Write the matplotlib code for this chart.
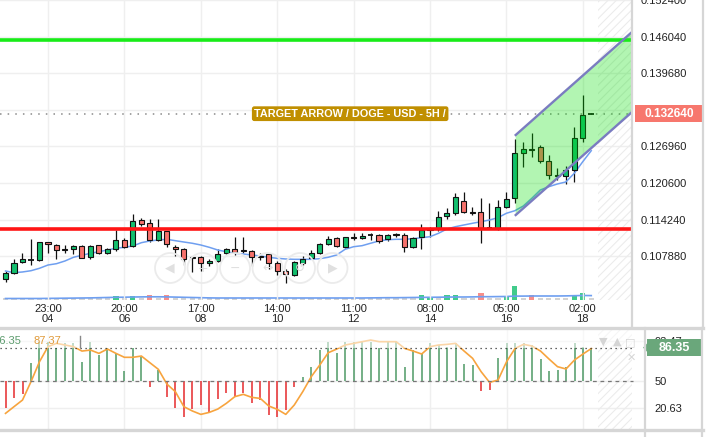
import numpy as np
import matplotlib
matplotlib.use('Agg')
import matplotlib.pyplot as plt
from matplotlib.patches import Rectangle, Circle, Polygon
from matplotlib.lines import Line2D
from matplotlib.transforms import Affine2D

plt.rcParams['font.family'] = ['Liberation Sans', 'DejaVu Sans']
plt.rcParams['hatch.linewidth'] = 0.8

W, H = 719, 437

# ---- data (DOGE/USD, 5h candles) ----
opens = [0.10386, 0.10490, 0.10686, 0.10715, 0.10716, 0.11029, 0.10982, 0.10907, 0.10907, 0.10970,
         0.10768, 0.10977, 0.10838, 0.10912, 0.11064, 0.10959, 0.11411, 0.11359, 0.11069, 0.11225,
         0.10942, 0.10907, 0.10761, 0.10779, 0.10674, 0.10709, 0.10843, 0.10907, 0.10890, 0.10883,
         0.10796, 0.10820, 0.10674, 0.10535, 0.10461, 0.10664, 0.10751, 0.10838, 0.10994, 0.11098,
         0.10952, 0.11116, 0.11098, 0.11162, 0.11156, 0.11081, 0.11156, 0.11156, 0.10942, 0.11116,
         0.11245, 0.11272, 0.11486, 0.11533, 0.11752, 0.11560, 0.11561, 0.11272, 0.11272, 0.11637,
         0.11794, 0.12576, 0.12645, 0.12680, 0.12442, 0.12190, 0.12186, 0.12286, 0.12836, 0.13264]
highs = [0.10535, 0.10733, 0.10848, 0.11094, 0.11034, 0.11034, 0.10994, 0.10982, 0.10977, 0.10977,
         0.10977, 0.10982, 0.10935, 0.11243, 0.11098, 0.11521, 0.11446, 0.11429, 0.11439, 0.11230,
         0.10987, 0.10925, 0.10791, 0.10791, 0.10733, 0.10907, 0.10930, 0.11116, 0.11116, 0.10895,
         0.10838, 0.10838, 0.10709, 0.10560, 0.10704, 0.10791, 0.10895, 0.11022, 0.11138, 0.11126,
         0.11126, 0.11185, 0.11185, 0.11185, 0.11173, 0.11173, 0.11185, 0.11185, 0.11126, 0.11347,
         0.11290, 0.11573, 0.11620, 0.11880, 0.11898, 0.11648, 0.11794, 0.11707, 0.11764, 0.11908,
         0.12824, 0.12767, 0.12923, 0.12720, 0.12546, 0.12315, 0.12355, 0.13038, 0.13589, 0.13280]
lows = [0.10344, 0.10473, 0.10674, 0.10634, 0.10709, 0.10848, 0.10733, 0.10838, 0.10831, 0.10751,
        0.10744, 0.10826, 0.10831, 0.10883, 0.10935, 0.10952, 0.11317, 0.11039, 0.11057, 0.10952,
        0.10791, 0.10634, 0.10518, 0.10535, 0.10617, 0.10692, 0.10826, 0.10803, 0.10838, 0.10617,
        0.10721, 0.10565, 0.10461, 0.10327, 0.10443, 0.10634, 0.10733, 0.10826, 0.10982, 0.10952,
        0.10925, 0.11069, 0.11086, 0.11069, 0.11022, 0.11057, 0.11116, 0.10855, 0.10925, 0.10907,
        0.11116, 0.11230, 0.11429, 0.11503, 0.11533, 0.11503, 0.11012, 0.11265, 0.11243, 0.11620,
        0.11707, 0.12332, 0.12517, 0.12412, 0.12124, 0.12112, 0.12042, 0.12082, 0.12777, 0.13250]
closes = [0.10490, 0.10674, 0.10733, 0.10718, 0.11029, 0.11000, 0.10895, 0.10890, 0.10959, 0.10761,
          0.10965, 0.10838, 0.10907, 0.11074, 0.10942, 0.11404, 0.11347, 0.11069, 0.11225, 0.11000,
          0.10907, 0.10733, 0.10779, 0.10674, 0.10704, 0.10826, 0.10907, 0.10866, 0.10873, 0.10768,
          0.10773, 0.10664, 0.10530, 0.10478, 0.10681, 0.10733, 0.10848, 0.10994, 0.11081, 0.10965,
          0.11116, 0.11098, 0.11138, 0.11160, 0.11057, 0.11156, 0.11168, 0.10942, 0.11109, 0.11243,
          0.11255, 0.11474, 0.11543, 0.11811, 0.11550, 0.11545, 0.11272, 0.11275, 0.11637, 0.11781,
          0.12576, 0.12645, 0.12628, 0.12442, 0.12199, 0.12175, 0.12286, 0.12836, 0.13241, 0.13264]
ma_line = [0.10530, 0.10501, 0.10513, 0.10535, 0.10577, 0.10634, 0.10657, 0.10704, 0.10768, 0.10803,
           0.10838, 0.10865, 0.10895, 0.10925, 0.10942, 0.10965, 0.11022, 0.11052, 0.11069, 0.11081,
           0.11057, 0.11034, 0.11012, 0.10982, 0.10942, 0.10895, 0.10865, 0.10838, 0.10826, 0.10808,
           0.10791, 0.10768, 0.10751, 0.10739, 0.10733, 0.10733, 0.10733, 0.10744, 0.10768, 0.10808,
           0.10907, 0.10952, 0.10970, 0.11012, 0.11052, 0.11074, 0.11081, 0.11081, 0.11091, 0.11109,
           0.11126, 0.11185, 0.11260, 0.11300, 0.11330, 0.11359, 0.11387, 0.11416, 0.11456, 0.11533,
           0.11578, 0.11660, 0.11794, 0.11938, 0.11995, 0.12042, 0.12077, 0.12228, 0.12430, 0.12621]
volume = [2, 2, 2, 2, 2, 2, 2, 2, 2, 2,
          2, 2, 2, 4, 2, 4, 2, 5, 2, 5,
          2, 2, 2, 2, 2, 2, 2, 2, 2, 2,
          2, 2, 2, 2, 2, 2, 2, 2, 2, 2,
          2, 2, 2, 2, 2, 2, 2, 2, 2, 5,
          3, 2, 4.5, 4.5, 2, 2, 7, 2, 2, 3,
          14, 2, 4.5, 2, 2, 2, 2, 5, 7, 2]
volume_ma = [1.5, 1.5, 1.5, 1.5, 1.5, 1.6, 1.7, 1.8, 1.9, 2.0,
             2.1, 2.3, 2.5, 2.7, 2.8, 3.0, 3.1, 3.2, 3.2, 3.1,
             2.9, 2.7, 2.5, 2.3, 2.1, 2.0, 2.0, 2.0, 2.0, 2.0,
             2.0, 2.0, 2.0, 2.0, 2.0, 2.0, 2.0, 2.0, 2.0, 2.0,
             2.0, 2.0, 2.0, 2.1, 2.2, 2.3, 2.3, 2.4, 2.5, 2.6,
             2.7, 2.8, 2.9, 3.0, 3.0, 3.1, 3.3, 3.3, 3.4, 3.5,
             3.9, 3.9, 4.0, 4.0, 4.0, 4.0, 4.1, 4.3, 4.5, 4.4]

tick_idx = [5, 14, 23, 32, 41, 50, 59, 68]
tick_txt = ['23:00\n04', '20:00\n06', '17:00\n08', '14:00\n10',
            '11:00\n12', '08:00\n14', '05:00\n16', '02:00\n18']
price_ticks = [0.10788, 0.11424, 0.12060, 0.12696, 0.13332, 0.13968, 0.14604, 0.15240]

resistance = 0.14545
support = 0.11260
last_price = 0.13264
chan_x = [60.1, 73.8]
chan_upper = [0.12894, 0.14684]
chan_lower = [0.11503, 0.13293]

osc = [20.3, 31.1, 35.9, 69.2, 93.0, 93.0, 85.5, 91.0, 91.0, 71.0,
       92.8, 78.3, 85.5, 80.1, 60.9, 85.5, 76.5, 43.8, 62.0, 33.0,
       20.3, 10.5, 19.2, 23.9, 16.6, 30.0, 37.3, 33.0, 36.6, 25.7,
       29.3, 13.0, 10.5, 18.4, 43.8, 54.0, 64.9, 83.7, 93.0, 80.1,
       93.0, 92.8, 92.8, 93.0, 85.5, 93.0, 93.0, 65.6, 83.7, 80.1,
       91.0, 89.2, 87.4, 91.0, 68.5, 67.4, 39.1, 40.2, 74.7, 91.0,
       91.0, 91.0, 89.2, 73.9, 60.9, 62.0, 65.6, 91.0, 87.4, 86.35]
signal = [14.8, 22.1, 29.3, 49.3, 71.0, 87.4, 91.0, 89.2, 87.4, 82.6,
          83.7, 80.1, 84.8, 80.1, 75.8, 75.8, 77.2, 69.9, 62.7, 46.7,
          38.4, 22.1, 17.4, 13.7, 15.9, 19.5, 25.7, 33.0, 35.5, 32.2,
          31.1, 22.8, 19.2, 13.7, 23.9, 38.4, 54.7, 67.4, 80.8, 84.8,
          89.2, 91.0, 92.8, 94.6, 92.8, 92.8, 92.8, 85.5, 82.6, 79.4,
          87.4, 89.2, 89.9, 91.0, 82.6, 74.7, 60.2, 48.5, 51.1, 71.0,
          85.5, 89.9, 88.1, 82.6, 73.9, 65.6, 63.1, 72.9, 79.4, 85.5]
signal_label = '87.37'
osc_ticks = [20.63, 50, 93.47]

UP = '#12bf6e'
DOWN = '#f7726c'
GRID = '#efefef'
HATCH = '#ececec'

fig = plt.figure(figsize=(W / 100, H / 100), dpi=100, facecolor='white')
px = Affine2D().scale(1 / W, -1 / H).translate(0, 1) + fig.transFigure

idx = np.arange(len(opens))
XL = (-0.65, 73.8)
YL = (0.10026, 0.1524)
FUTURE = 69.8

# volume underlay
ax_v = fig.add_axes([0, 1 - 300 / H, 632 / W, 300 / H])
ax_v.set_xlim(*XL)
ax_v.set_ylim(0, max(volume) * 21.4)
ax_v.axis('off')
vcol = [('#c9c9c9' if v <= 2.5 else (UP if c >= o else DOWN)) for v, o, c in zip(volume, opens, closes)]
ax_v.bar(idx, volume, width=0.62, color=vcol, alpha=0.8)
ax_v.plot(idx, volume_ma, color='#6f9ff0', lw=1.2)

# main price axes
ax = fig.add_axes([0, 1 - 300 / H, 632 / W, 300 / H])
ax.set_facecolor('none')
ax.set_xlim(*XL)
ax.set_ylim(*YL)
for s in ax.spines.values():
    s.set_visible(False)
ax.set_xticks(tick_idx)
ax.set_xticklabels(tick_txt, fontsize=8, color='#222222', linespacing=0.95)
ax.yaxis.tick_right()
ax.set_yticks(price_ticks)
ax.set_yticklabels(['%.6f' % t for t in price_ticks], fontsize=8, color='#222222')
ax.tick_params(axis='x', length=0, pad=3)
ax.tick_params(axis='y', length=0, pad=6)
ax.grid(True, color=GRID, lw=1)
ax.set_axisbelow(True)

# future hatch
ax.add_patch(Rectangle((FUTURE, YL[0]), XL[1] - FUTURE, YL[1] - YL[0], facecolor='none',
                       edgecolor=HATCH, hatch='////', lw=0, zorder=1))

# candles
for i, (o, h, l, c) in enumerate(zip(opens, highs, lows, closes)):
    ax.vlines(i, l, h, color='#111111', lw=0.9, zorder=3)
    if abs(c - o) < 0.00006:
        ax.hlines((o + c) / 2, i - 0.33, i + 0.33, color='#111111', lw=1.3, zorder=4)
    else:
        ax.add_patch(Rectangle((i - 0.3, min(o, c)), 0.6, abs(c - o),
                               facecolor=UP if c > o else DOWN, edgecolor='#111111',
                               lw=0.8, zorder=4))
ax.plot(idx, ma_line, color='#6f9ff0', lw=1.1, zorder=3.5)

# levels
ax.axhline(resistance, color='#18ec18', lw=2.6, zorder=6)
ax.axhline(support, color='#ff1515', lw=2.6, zorder=6)
ax.axhline(last_price, color='#8a8a8a', lw=1.1, ls=(0, (1, 4)), zorder=2)

# channel
ax.fill(chan_x + chan_x[::-1], chan_upper + chan_lower[::-1], color='#00e000', alpha=0.3, lw=0, zorder=5)
ax.plot(chan_x, chan_upper, color='#7a7cc0', lw=1.7, zorder=6)
ax.plot(chan_x, chan_lower, color='#7a7cc0', lw=1.7, zorder=6)

ax.text(40.6, last_price, 'TARGET ARROW / DOGE - USD - 5H /', ha='center', va='center',
        fontsize=7.8, fontweight='bold', color='white', zorder=8,
        bbox=dict(boxstyle='round,pad=0.22', fc='#c08f00', ec='none'))

# last price tag
ytr = ax.get_yaxis_transform()
ax.add_patch(Rectangle((1.0047, last_price - 0.00147), 0.1076, 0.00294, transform=ytr,
                       facecolor='#f7776d', edgecolor='none', clip_on=False, zorder=9))
ax.text(1.0585, last_price, '%.6f' % last_price, transform=ytr, ha='center', va='center',
        fontsize=8.6, fontweight='bold', color='white', clip_on=False, zorder=10)

# nav buttons
for k, g in enumerate(['◀', '+', '−', '↔', '↺', '▶']):
    cx = 170 + 32.5 * k
    fig.add_artist(Circle((cx, 268), 15, transform=px, facecolor='none', edgecolor='#ebebeb', lw=1.3))
    fig.text(cx / W, 1 - 268 / H, g, ha='center', va='center', fontsize=9, color='#e0e0e0',
             family=['DejaVu Sans'])

# oscillator pane
OXL = (-0.65, 75.3)
ax2 = fig.add_axes([0, 7 / H, 645 / W, 102 / H])
ax2.set_xlim(*OXL)
ax2.set_ylim(-3.3, 107.7)
for s in ax2.spines.values():
    s.set_visible(False)
ax2.set_xticks(tick_idx)
ax2.set_xticklabels([])
ax2.yaxis.tick_right()
ax2.set_yticks(osc_ticks)
ax2.set_yticklabels(['20.63', '50', '93.47'], fontsize=8, color='#222222')
ax2.tick_params(length=0)
ax2.tick_params(axis='y', pad=7)
ax2.grid(True, color=GRID, lw=1)
ax2.set_axisbelow(True)
ax2.add_patch(Rectangle((FUTURE, -3.3), XL[1] - FUTURE, 111, facecolor='none', edgecolor=HATCH,
                        hatch='////', lw=0, zorder=1))
for i, v in enumerate(osc):
    ax2.vlines(i, 50, v, color='#4e9a66' if v >= 50 else '#e5292c', lw=1.1, zorder=2)
ax2.plot(idx, signal, color='#f7a43e', lw=1.2, zorder=3)
ax2.axhspan(osc[-1], 107.7, color='white', alpha=0.55, lw=0, zorder=3.5)
line_end = (XL[1] + 0.1 - OXL[0]) / (OXL[1] - OXL[0])
ax2.axhline(osc[-1], xmax=line_end, color='#333333', lw=0.9, ls=(0, (1, 3)), zorder=4)
ax2.axhline(50, xmax=line_end, color='#777777', lw=0.9, ls=(0, (3, 3)), zorder=4)

ytr2 = ax2.get_yaxis_transform()
ax2.add_patch(Rectangle((1.003, osc[-1] - 8.7), 0.086, 17.8, transform=ytr2,
                        facecolor='#6aa77b', edgecolor='none', clip_on=False, zorder=9))
ax2.add_patch(Polygon([(1.003, osc[-1] - 4.5), (0.997, osc[-1]), (1.003, osc[-1] + 4.5)],
                      transform=ytr2, facecolor='#6aa77b', edgecolor='none', clip_on=False, zorder=9))
ax2.text(1.046, osc[-1], '%.2f' % osc[-1], transform=ytr2, ha='center', va='center',
         fontsize=9, fontweight='bold', color='white', clip_on=False, zorder=10)

fig.text(-7 / W, 1 - 341 / H, '%.2f' % osc[-1], ha='left', va='center', fontsize=8, color='#5d9c6e')
fig.text(34 / W, 1 - 341 / H, signal_label, ha='left', va='center', fontsize=8, color='#e09a3a')
fig.add_artist(Line2D([80, 80], [336, 347], transform=px, color='#888888', lw=1))
for gx, gy, g in [(603, 342, '▼'), (617, 342, '▲'), (630, 342, '□'), (631, 358, '✕')]:
    fig.text(gx / W, 1 - gy / H, g, ha='center', va='center', fontsize=8, color='#d5d5d5',
             family=['DejaVu Sans'])

# pane borders
bc = '#d6d6d6'
for xs, ys, lw in [([632, 632], [0, 327], 1.6), ([703, 703], [0, 328], 1.6),
                   ([0, 703], [327.5, 327.5], 2.4), ([645, 645], [328, 437], 1.6),
                   ([702, 702], [328, 437], 1.6), ([0, 703], [430, 430], 2.4)]:
    fig.add_artist(Line2D(xs, ys, transform=px, color=bc, lw=lw))

fig.savefig('out.png', dpi=100, facecolor='white')
